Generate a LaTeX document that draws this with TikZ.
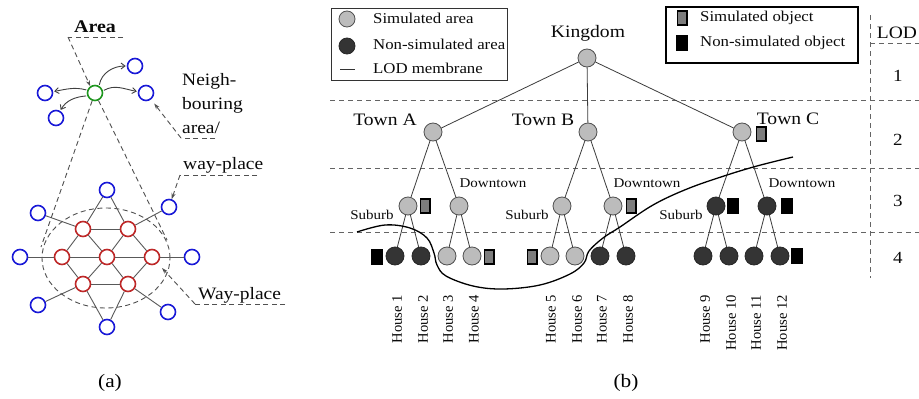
\documentclass[tikz,border=0pt]{standalone}
\usepackage{fontspec}
\usepackage{graphicx}
\setmainfont{Liberation Serif}[FakeStretch=1.12]
\newfontfamily\plainrm{Liberation Serif}
\usetikzlibrary{arrows.meta}
\definecolor{simfill}{RGB}{188,188,188}
\definecolor{simdraw}{RGB}{80,80,80}
\definecolor{darkfill}{RGB}{52,52,52}
\definecolor{objgray}{RGB}{125,125,125}
\definecolor{edgec}{RGB}{60,60,60}
\definecolor{dashc}{RGB}{100,100,100}
\definecolor{bluec}{RGB}{25,25,215}
\definecolor{redc}{RGB}{190,40,40}
\definecolor{greenc}{RGB}{30,150,30}
\definecolor{txtc}{RGB}{10,10,10}
\tikzset{
  simarea/.style={circle,draw=simdraw,fill=simfill,minimum size=18pt,inner sep=0pt,line width=0.8pt},
  nonsim/.style={circle,draw=black!85,fill=darkfill,minimum size=18pt,inner sep=0pt,line width=0.8pt},
  simobj/.style={rectangle,draw=black,line width=1.5pt,fill=objgray,minimum width=9.5pt,minimum height=14pt,inner sep=0pt},
  nonsimobj/.style={rectangle,draw=black,fill=black,minimum width=11pt,minimum height=15pt,inner sep=0pt},
  edge/.style={draw=edgec,line width=0.8pt},
  sepline/.style={draw=dashc,line width=0.9pt,dash pattern=on 5pt off 4pt},
  ldash/.style={draw=dashc!80!black,line width=0.9pt,dash pattern=on 5pt off 3.5pt},
  ldasharr/.style={ldash,-{Stealth[length=6pt,width=4pt,open]}},
  membrane/.style={draw=black,line width=1.3pt},
  bigtxt/.style={font=\fontsize{17.5}{20}\selectfont,text=txtc,inner sep=0pt},
  midtxt/.style={font=\fontsize{13.4}{16}\selectfont,text=txtc,inner sep=0pt},
  legtxt/.style={font=\fontsize{15}{18}\selectfont,text=txtc,inner sep=0pt,anchor=west},
  housetxt/.style={font=\plainrm\fontsize{14.6}{16}\selectfont,text=txtc,inner sep=0pt,rotate=90,anchor=east},
  lodtxt/.style={font=\fontsize{17}{20}\selectfont,text=txtc,inner sep=0pt},
  lefttxt/.style={font=\fontsize{17.4}{24}\selectfont,text=txtc,inner sep=0pt},
  captxt/.style={font=\fontsize{19}{22}\selectfont,text=black,inner sep=0pt},
  bcirc/.style={circle,draw=bluec,line width=1.6pt,minimum size=15pt,inner sep=0pt,fill=white},
  rcirc/.style={circle,draw=redc,line width=1.6pt,minimum size=15pt,inner sep=0pt,fill=white},
  gcirc/.style={circle,draw=greenc,line width=1.6pt,minimum size=15pt,inner sep=0pt,fill=white},
  gedge/.style={draw=black!65,line width=0.9pt},
  carr/.style={draw=black!75,line width=0.9pt,-{Straight Barb[length=4pt,width=6pt]},shorten >=1pt,shorten <=1pt}
}
\begin{document}
\begin{tikzpicture}[x=1pt,y=-1pt]
\useasboundingbox[fill=white] (0,0) rectangle (919,399);

%%%%%%%%%%%%%%%% Panel (a) %%%%%%%%%%%%%%%%
\draw[ldash] (106,258) ellipse [x radius=64pt, y radius=50pt];
\coordinate (coneL) at (41,247);
\coordinate (coneR) at (167,240);

\node[rcirc] (R0) at (107,257) {};
\node[rcirc] (RL) at (62,257) {};
\node[rcirc] (RR) at (152,257) {};
\node[rcirc] (RTL) at (83,229) {};
\node[rcirc] (RTR) at (128,229) {};
\node[rcirc] (RBL) at (83,284) {};
\node[rcirc] (RBR) at (128,284) {};
\node[bcirc] (BT) at (107,190) {};
\node[bcirc] (BB) at (107,327) {};
\node[bcirc] (BL) at (20,257) {};
\node[bcirc] (BR) at (192,257) {};
\node[bcirc] (BTL) at (38,213) {};
\node[bcirc] (BTR) at (169,207) {};
\node[bcirc] (BBL) at (38,305) {};
\node[bcirc] (BBR) at (168,312) {};

\draw[gedge] (RTL) -- (RTR);
\draw[gedge] (RL) -- (R0);
\draw[gedge] (R0) -- (RR);
\draw[gedge] (RBL) -- (RBR);
\draw[gedge] (RTL) -- (R0);
\draw[gedge] (RTR) -- (R0);
\draw[gedge] (RBL) -- (R0);
\draw[gedge] (RBR) -- (R0);
\draw[gedge] (RTL) -- (RL);
\draw[gedge] (RBL) -- (RL);
\draw[gedge] (RTR) -- (RR);
\draw[gedge] (RBR) -- (RR);
\draw[gedge] (BT) -- (RTL);
\draw[gedge] (BT) -- (RTR);
\draw[gedge] (BB) -- (RBL);
\draw[gedge] (BB) -- (RBR);
\draw[gedge] (BL) -- (RL);
\draw[gedge] (BR) -- (RR);
\draw[gedge] (BTL) -- (RTL);
\draw[gedge] (BTR) -- (RTR);
\draw[gedge] (BBL) -- (RBL);
\draw[gedge] (BBR) -- (RBR);

\node[gcirc] (G) at (95,93) {};
\node[bcirc] (N1) at (135,66) {};
\node[bcirc] (N2) at (146,93) {};
\node[bcirc] (N3) at (45,93) {};
\node[bcirc] (N4) at (56,118) {};
\draw[carr] (G.60) to[out=80,in=180] (N1);
\draw[carr] (G.15) to[out=30,in=170] (N2);
\draw[carr] (G.160) to[out=165,in=10] (N3);
\draw[carr] (G.200) to[out=185,in=60] (N4);

\draw[ldash] (G.250) -- (coneL);
\draw[ldash] (G.295) -- (coneR);

\node[lefttxt,font=\bfseries\fontsize{17.8}{20}\selectfont] (area) at (95,27) {Area};
\coordinate (areaL) at (68,37);
\coordinate (areaR) at (123,37);
\draw[ldash] (areaR) -- (areaL);
\draw[ldasharr] (areaL) -- (G.125);

\node[lefttxt,align=left,anchor=west] (nb) at (182,104) {Neigh-\\bouring\\area/};
\coordinate (nbL) at (181,138);
\coordinate (nbR) at (215,138);
\draw[ldash] (nbR) -- (nbL);
\draw[ldasharr,shorten >=5pt] (nbL) -- (N2);

\node[lefttxt,anchor=west] (wp) at (183,165) {way-place};
\coordinate (wpL) at (180,175);
\coordinate (wpR) at (257,175);
\draw[ldash] (wpR) -- (wpL);
\draw[ldasharr] (wpL) -- (BTR);

\node[lefttxt,anchor=west] (WP) at (198,295) {Way-place};
\coordinate (WPL) at (195,304);
\coordinate (WPR) at (285,304);
\coordinate (WPtip) at (162,268);
\draw[ldash] (WPR) -- (WPL);
\draw[ldasharr] (WPL) -- (WPtip);

\node[captxt] (capa) at (110,383) {(a)};

%%%%%%%%%%%%%%%% Panel (b) %%%%%%%%%%%%%%%%
\coordinate (s1a) at (330,100); \coordinate (s1b) at (919,100);
\coordinate (s2a) at (330,168); \coordinate (s2b) at (919,168);
\coordinate (s3a) at (330,232); \coordinate (s3b) at (919,232);
\coordinate (s0a) at (870,43); \coordinate (s0b) at (919,43);
\coordinate (vt) at (870,15); \coordinate (vb) at (870,278);
\draw[sepline] (s1a) -- (s1b);
\draw[sepline] (s2a) -- (s2b);
\draw[sepline] (s3a) -- (s3b);
\draw[sepline] (s0a) -- (s0b);
\draw[sepline] (vt) -- (vb);
\node[lodtxt,font=\fontsize{17.4}{20}\selectfont] (lod) at (897,33) {LOD};
\node[lodtxt] (l1) at (898,76) {1};
\node[lodtxt] (l2) at (898,140) {2};
\node[lodtxt] (l3) at (898,201) {3};
\node[lodtxt] (l4) at (898,258) {4};

\draw[draw=black!80,line width=0.9pt] (331,8) rectangle (507,80);
\node[simarea,minimum size=16pt] (lg1) at (347,19) {};
\node[nonsim,minimum size=16pt] (lg2) at (347,46) {};
\coordinate (lgl1) at (340,69); \coordinate (lgl2) at (355,69);
\draw[draw=black!80,line width=1pt] (lgl1) -- (lgl2);
\node[legtxt] (lt1) at (373,18) {Simulated area};
\node[legtxt] (lt2) at (373,44) {Non-simulated area};
\node[legtxt] (lt3) at (373,68) {LOD membrane};

\draw[draw=black,line width=1.2pt] (666,7) rectangle (858,63);
\node[simobj] (lo1) at (682,18) {};
\node[nonsimobj] (lo2) at (682,43) {};
\node[legtxt] (ot1) at (700,18) {Simulated object};
\node[legtxt] (ot2) at (700,43) {Non-simulated object};

\node[simarea] (K) at (587,58) {};
\node[bigtxt] (Kt) at (588,33) {Kingdom};
\node[simarea] (TA) at (433,132) {};
\node[simarea] (TB) at (588,132) {};
\node[simarea] (TC) at (742,132) {};
\node[bigtxt] (TAt) at (385,120) {Town A};
\node[bigtxt] (TBt) at (543,120) {Town B};
\node[bigtxt] (TCt) at (788,119) {Town C};
\node[simobj] (oTC) at (761,134) {};

\node[simarea] (SA) at (408,206) {};
\node[simarea] (DA) at (459,206) {};
\node[simarea] (SB) at (562,206) {};
\node[simarea] (DB) at (613,206) {};
\node[nonsim] (SC) at (716,206) {};
\node[nonsim] (DC) at (767,206) {};
\node[simobj] (oSA) at (425,206) {};
\node[simobj] (oDB) at (631,206) {};
\node[nonsimobj] (oSC) at (733,206) {};
\node[nonsimobj] (oDC) at (787,206) {};
\node[midtxt] (dAt) at (493,183) {Downtown};
\node[midtxt] (dBt) at (647,183) {Downtown};
\node[midtxt] (dCt) at (802,183) {Downtown};
\node[midtxt] (sAt) at (372,215) {Suburb};
\node[midtxt] (sBt) at (527,215) {Suburb};
\node[midtxt] (sCt) at (681,215) {Suburb};

\node[nonsim] (H1) at (395,256) {};
\node[nonsim] (H2) at (421,256) {};
\node[simarea] (H3) at (447,256) {};
\node[simarea] (H4) at (472,256) {};
\node[simarea] (H5) at (550,256) {};
\node[simarea] (H6) at (575,256) {};
\node[nonsim] (H7) at (600,256) {};
\node[nonsim] (H8) at (626,256) {};
\node[nonsim] (H9) at (703,256) {};
\node[nonsim] (H10) at (729,256) {};
\node[nonsim] (H11) at (754,256) {};
\node[nonsim] (H12) at (780,256) {};
\node[nonsimobj] (oH1) at (377,257) {};
\node[simobj] (oH4) at (489,257) {};
\node[simobj] (oH5) at (532,257) {};
\node[nonsimobj] (oH12) at (797,256) {};

\draw[edge] (K) -- (TA);
\draw[edge] (K) -- (TB);
\draw[edge] (K) -- (TC);
\draw[edge] (TA) -- (SA);
\draw[edge] (TA) -- (DA);
\draw[edge] (TB) -- (SB);
\draw[edge] (TB) -- (DB);
\draw[edge] (TC) -- (SC);
\draw[edge] (TC) -- (DC);
\draw[edge] (SA) -- (H1);
\draw[edge] (SA) -- (H2);
\draw[edge] (DA) -- (H3);
\draw[edge] (DA) -- (H4);
\draw[edge] (SB) -- (H5);
\draw[edge] (SB) -- (H6);
\draw[edge] (DB) -- (H7);
\draw[edge] (DB) -- (H8);
\draw[edge] (SC) -- (H9);
\draw[edge] (SC) -- (H10);
\draw[edge] (DC) -- (H11);
\draw[edge] (DC) -- (H12);

\node[housetxt] (hl1) at (397,295) {House 1};
\node[housetxt] (hl2) at (423,295) {House 2};
\node[housetxt] (hl3) at (448,295) {House 3};
\node[housetxt] (hl4) at (474,295) {House 4};
\node[housetxt] (hl5) at (551,295) {House 5};
\node[housetxt] (hl6) at (577,295) {House 6};
\node[housetxt] (hl7) at (602,295) {House 7};
\node[housetxt] (hl8) at (628,295) {House 8};
\node[housetxt] (hl9) at (705,295) {House 9};
\node[housetxt] (hl10) at (731,295) {House 10};
\node[housetxt] (hl11) at (756,295) {House 11};
\node[housetxt] (hl12) at (782,295) {House 12};

\draw[membrane] plot[smooth,tension=0.6] coordinates {
 (357,232) (385,225) (410,228) (427,238) (434,253) (437,265) (446,276)
 (473,286) (503,289) (540,285) (570,274) (584,263) (589,251) (603,238)
 (620,227) (653,205) (687,189) (724,176) (757,166) (793,157)};

\node[captxt] (capb) at (626,383) {(b)};
\end{tikzpicture}
\end{document}
